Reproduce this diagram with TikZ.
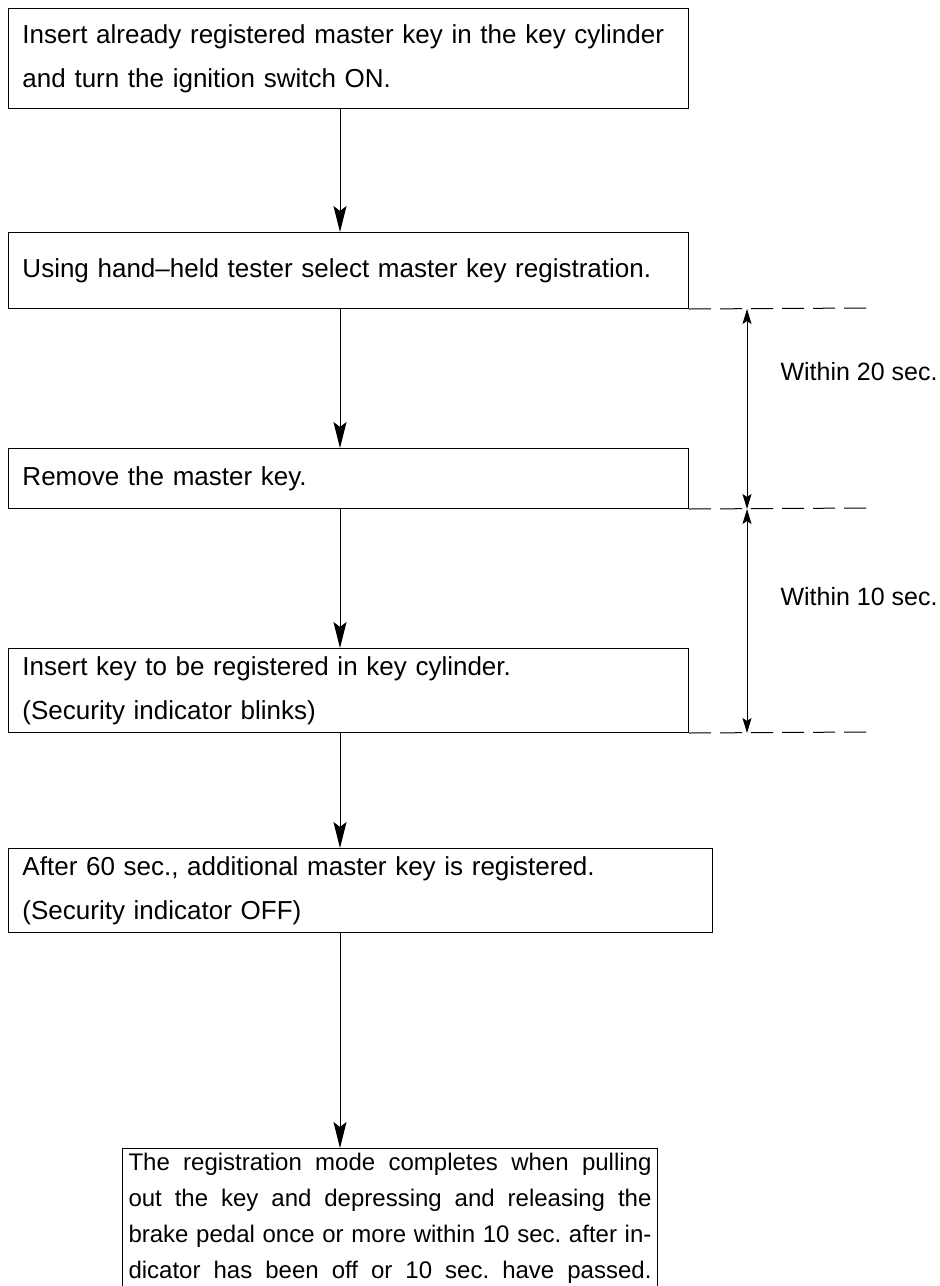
\documentclass[tikz,border=0pt]{standalone}
\usepackage{fontspec}
\setmainfont{Liberation Sans}
\usetikzlibrary{arrows.meta}
\frenchspacing
\newcommand\jline[1]{\hbox to 523pt{\spaceskip=0.2em plus 1fil\relax #1}}
\begin{document}
\begin{tikzpicture}[x=1pt,y=-1pt,
  box/.style={draw, line width=1pt, rectangle, anchor=north west, inner xsep=14pt, inner ysep=0pt,
    align=left, font=\fontsize{26}{44}\selectfont},
  flow/.style={line width=1pt, -{Stealth[length=26pt,width=13pt,inset=5pt]}},
  dashline/.style={line width=1pt, dash pattern=on 22pt off 9pt},
  dim/.style={line width=1pt, {Stealth[length=15pt,width=9pt,inset=3pt]}-{Stealth[length=15pt,width=9pt,inset=3pt]}},
  lbl/.style={anchor=west, font=\fontsize{25}{30}\selectfont}]
\useasboundingbox (0,0) rectangle (940,1286);
\coordinate (ax) at (340,0);
\coordinate (dx) at (747,0);
\node[box, minimum width=680pt, minimum height=100pt, text width=652pt] (b1) at (8,8)
  {Insert already registered master key in the key cylinder\\and turn the ignition switch ON.};
\node[box, minimum width=680pt, minimum height=76pt, text width=652pt] (b2) at (8,232)
  {Using hand--held tester select master key registration.};
\node[box, minimum width=680pt, minimum height=60pt, text width=652pt] (b3) at (8,448)
  {Remove the master key.};
\node[box, minimum width=680pt, minimum height=84pt, text width=652pt] (b4) at (8,648)
  {Insert key to be registered in key cylinder.\\(Security indicator blinks)};
\node[box, minimum width=704pt, minimum height=84pt, text width=676pt] (b5) at (8,848)
  {After 60 sec., additional master key is registered.\\(Security indicator OFF)};
\node[box, minimum width=535pt, text width=523pt, inner xsep=6pt, inner ysep=5pt,
  font=\fontsize{24}{36}\selectfont] (b6) at (122,1148)
  {\jline{The registration mode completes when pulling}
   \jline{out the key and depressing and releasing the}
   \jline{brake pedal once or more within 10 sec. after in-}
   \jline{dicator has been off or 10 sec. have passed.}};
\draw[flow] (b1.south -| ax) -- (b2.north -| ax);
\draw[flow] (b2.south -| ax) -- (b3.north -| ax);
\draw[flow] (b3.south -| ax) -- (b4.north -| ax);
\draw[flow] (b4.south -| ax) -- (b5.north -| ax);
\draw[flow] (b5.south -| ax) -- (b6.north -| ax);
\coordinate (e1) at (866,308);
\coordinate (e2) at (866,508);
\coordinate (e3) at (866,732);
\draw[dashline] (b2.south east) -- (e1);
\draw[dashline] (b3.south east) -- (e2);
\draw[dashline] (b4.south east) -- (e3);
\draw[dim] (b2.south -| dx) -- (b3.south -| dx);
\draw[dim] (b3.south -| dx) -- (b4.south -| dx);
\node[lbl] (t1) at (777,372) {Within 20 sec.};
\node[lbl] (t2) at (777,597) {Within 10 sec.};
\end{tikzpicture}
\end{document}
